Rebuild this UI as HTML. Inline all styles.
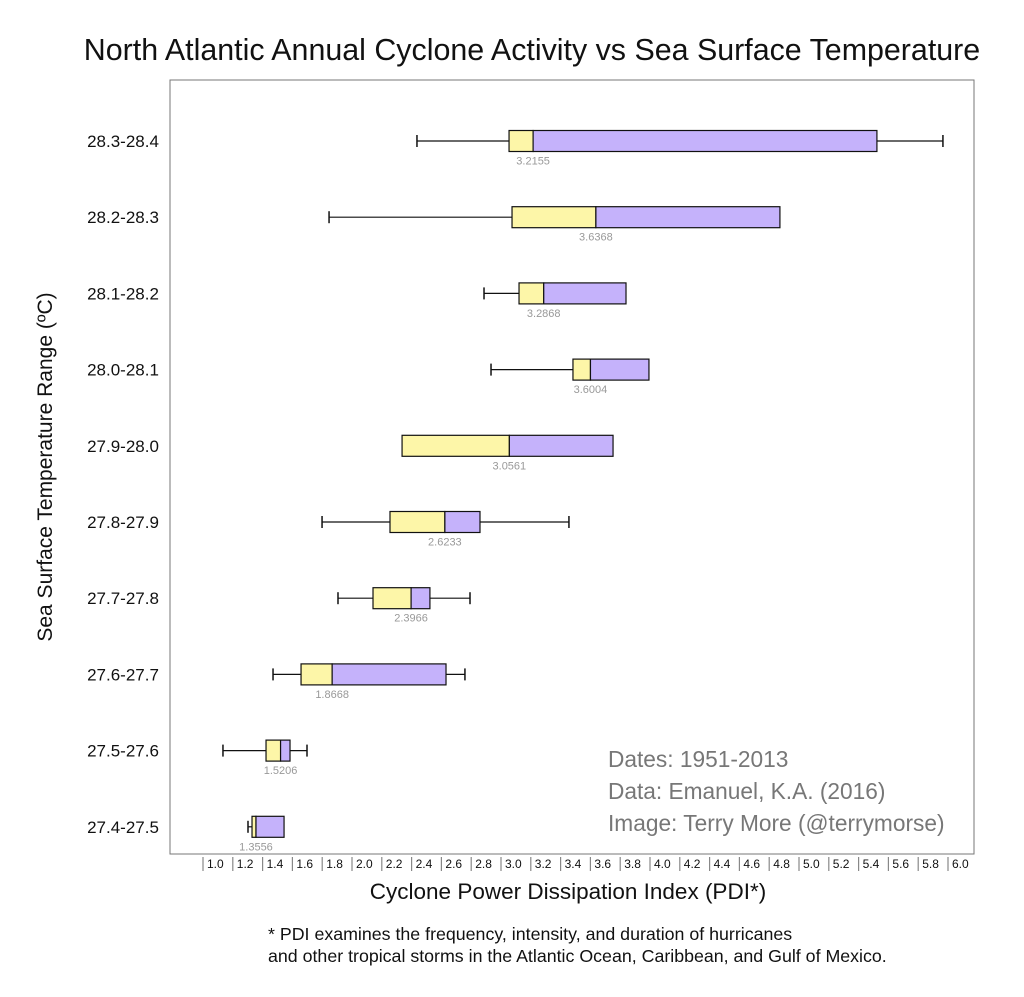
<!DOCTYPE html>
<html><head><meta charset="utf-8"><style>
body{margin:0;background:#fff;font-family:"Liberation Sans",Arial,sans-serif}
svg text{font-family:"Liberation Sans",Arial,sans-serif}
</style></head><body>
<svg id="chart" width="1024" height="992" xmlns="http://www.w3.org/2000/svg">
<text x="532" y="60" font-size="30.4" text-anchor="middle" fill="#111">North Atlantic Annual Cyclone Activity vs Sea Surface Temperature</text>
<rect x="170" y="80" width="804" height="774" fill="none" stroke="#777" stroke-width="1"/>
<text transform="translate(52,467) rotate(-90)" font-size="21" text-anchor="middle" fill="#111">Sea Surface Temperature Range (ºC)</text>
<text x="568" y="899" font-size="22.5" text-anchor="middle" fill="#111">Cyclone Power Dissipation Index (PDI*)</text>
<text x="268" y="940" font-size="17.8" fill="#111">* PDI examines the frequency, intensity, and duration of hurricanes</text>
<text x="268" y="962" font-size="17.8" fill="#111">and other tropical storms in the Atlantic Ocean, Caribbean, and Gulf of Mexico.</text>
<text x="608" y="767" font-size="22.7" fill="#777">Dates: 1951-2013</text>
<text x="608" y="799" font-size="22.7" fill="#777">Data: Emanuel, K.A. (2016)</text>
<text x="608" y="831" font-size="22.7" fill="#777">Image: Terry More (@terrymorse)</text>
<g id="ticks"></g><g id="rows"></g>
</svg>
<script>
const categories=["28.3-28.4","28.2-28.3","28.1-28.2","28.0-28.1","27.9-28.0","27.8-27.9","27.7-27.8","27.6-27.7","27.5-27.6","27.4-27.5"];
const whiskerLow=[2.436,1.846,2.886,2.933,null,1.799,1.906,1.470,1.134,1.302];
const q1=[3.054,3.074,3.121,3.483,2.336,2.255,2.141,1.658,1.423,1.329];
const medians=[3.2155,3.6368,3.2868,3.6004,3.0561,2.6233,2.3966,1.8668,1.5206,1.3556];
const q3=[5.523,4.872,3.839,3.993,3.752,2.859,2.523,2.631,1.584,1.544];
const whiskerHigh=[5.966,null,null,null,null,3.456,2.792,2.758,1.698,null];
const tickValues=[1.0,1.2,1.4,1.6,1.8,2.0,2.2,2.4,2.6,2.8,3.0,3.2,3.4,3.6,3.8,4.0,4.2,4.4,4.6,4.8,5.0,5.2,5.4,5.6,5.8,6.0];
const NS="http://www.w3.org/2000/svg";
const xs=v=>203+(v-1)*149;
const ys=i=>141+i*76.2;
function mk(t,a,p){const e=document.createElementNS(NS,t);for(const k in a)e.setAttribute(k,a[k]);p.appendChild(e);return e;}
const tg=document.getElementById('ticks');
tickValues.forEach(v=>{
  const l=mk('line',{x1:xs(v),x2:xs(v),y1:857,y2:871,stroke:'#888','stroke-width':1.2},tg);
  
  
  const t=mk('text',{x:xs(v)+4,y:868,'font-size':12,fill:'#111'},tg);
  t.textContent=v.toFixed(1);
  
  
});
const rg=document.getElementById('rows');
categories.forEach((c,i)=>{
  const y=ys(i),h=21;
  const g=mk('g',{},rg);
  
  
  const lab=mk('text',{x:123,y:y+6,'font-size':17,'text-anchor':'middle',fill:'#111'},g);
  lab.textContent=c;
  
  
  if(whiskerLow[i]!=null){
    const w=mk('line',{x1:xs(whiskerLow[i]),x2:xs(q1[i]),y1:y,y2:y,stroke:'#111','stroke-width':1.2},g);
    
    const cap=mk('line',{x1:xs(whiskerLow[i]),x2:xs(whiskerLow[i]),y1:y-6,y2:y+6,stroke:'#111','stroke-width':1.5},g);
    
  }
  if(whiskerHigh[i]!=null){
    const w=mk('line',{x1:xs(q3[i]),x2:xs(whiskerHigh[i]),y1:y,y2:y,stroke:'#111','stroke-width':1.2},g);
    
    const cap=mk('line',{x1:xs(whiskerHigh[i]),x2:xs(whiskerHigh[i]),y1:y-6,y2:y+6,stroke:'#111','stroke-width':1.5},g);
    
  }
  const b1=mk('rect',{x:xs(q1[i]),y:y-h/2,width:xs(medians[i])-xs(q1[i]),height:h,fill:'#fdf6a8',stroke:'#111','stroke-width':1.2},g);
  
  const b2=mk('rect',{x:xs(medians[i]),y:y-h/2,width:xs(q3[i])-xs(medians[i]),height:h,fill:'#c5b2fb',stroke:'#111','stroke-width':1.2},g);
  
  const mt=mk('text',{x:xs(medians[i]),y:y+h/2+13,'font-size':11,'text-anchor':'middle',fill:'#999'},g);
  mt.textContent=medians[i].toFixed(4);
  
});
</script>
</body></html>
